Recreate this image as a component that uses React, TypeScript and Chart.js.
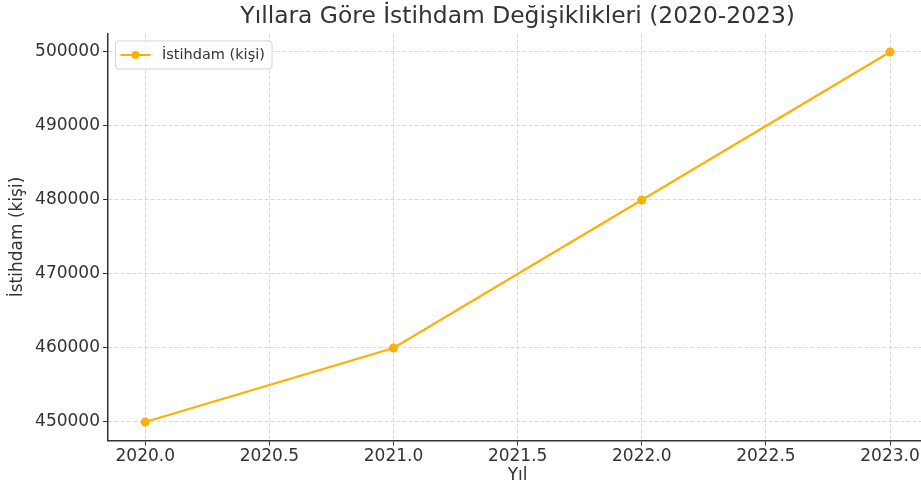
import React, { useEffect, useRef } from "react";
import { Chart, registerables } from "chart.js";

Chart.register(...registerables);

const years = [2020, 2021, 2022, 2023];
const employment = [450000, 460000, 480000, 500000];
const xTicks = [2020.0, 2020.5, 2021.0, 2021.5, 2022.0, 2022.5, 2023.0];
const yTicks = [450000, 460000, 470000, 480000, 490000, 500000];
const titleText = "Yıllara Göre İstihdam Değişiklikleri (2020-2023)";
const xLabel = "Yıl";
const yLabel = "İstihdam (kişi)";
const seriesLabel = "İstihdam (kişi)";

const FONT = "'DejaVu Sans', sans-serif";
const LINE_COLOR = "#FFB000";
const TEXT_COLOR = "#333333";
const GRID_COLOR = "#cfcfcf";

const legendPlugin = {
  id: "boxLegend",
  afterDatasetsDraw(chart: any) {
    const { ctx, chartArea } = chart;
    const x = chartArea.left + 7.5;
    const y = chartArea.top + 7.5;
    const w = 156.5;
    const h = 28;
    ctx.save();
    ctx.beginPath();
    const r = 3;
    ctx.moveTo(x + r, y);
    ctx.lineTo(x + w - r, y);
    ctx.quadraticCurveTo(x + w, y, x + w, y + r);
    ctx.lineTo(x + w, y + h - r);
    ctx.quadraticCurveTo(x + w, y + h, x + w - r, y + h);
    ctx.lineTo(x + r, y + h);
    ctx.quadraticCurveTo(x, y + h, x, y + h - r);
    ctx.lineTo(x, y + r);
    ctx.quadraticCurveTo(x, y, x + r, y);
    ctx.closePath();
    ctx.fillStyle = "rgba(255,255,255,0.85)";
    ctx.fill();
    ctx.strokeStyle = "#d6d6d6";
    ctx.lineWidth = 1;
    ctx.stroke();
    const cy = y + h / 2;
    ctx.beginPath();
    ctx.moveTo(x + 5, cy);
    ctx.lineTo(x + 35, cy);
    ctx.strokeStyle = LINE_COLOR;
    ctx.lineWidth = 2;
    ctx.stroke();
    ctx.beginPath();
    ctx.arc(x + 20, cy, 4, 0, Math.PI * 2);
    ctx.fillStyle = LINE_COLOR;
    ctx.fill();
    ctx.font = `14.5px ${FONT}`;
    ctx.fillStyle = TEXT_COLOR;
    ctx.textBaseline = "middle";
    ctx.textAlign = "left";
    ctx.fillText(seriesLabel, x + 46.5, cy);
    ctx.restore();
  },
};

export default function App() {
  const ref = useRef<HTMLCanvasElement>(null);
  useEffect(() => {
    if (!ref.current) return;
    const chart = new Chart(ref.current, {
      type: "line",
      data: {
        datasets: [
          {
            label: seriesLabel,
            data: years.map((yr, i) => ({ x: yr, y: employment[i] })),
            borderColor: LINE_COLOR,
            backgroundColor: LINE_COLOR,
            borderWidth: 2.2,
            pointRadius: 4.5,
            pointBackgroundColor: LINE_COLOR,
            pointBorderWidth: 0,
            tension: 0,
          },
        ],
      },
      options: {
        responsive: false,
        animation: false,
        devicePixelRatio: 1,
        layout: { padding: { left: 0, right: 12.75, top: 0, bottom: 0 } },
        plugins: {
          legend: { display: false },
          tooltip: { enabled: false },
          title: {
            display: true,
            text: titleText,
            fullSize: false,
            color: TEXT_COLOR,
            font: { family: FONT, size: 23.4, weight: "normal" },
            padding: { top: 3, bottom: 2.4 },
          },
        },
        scales: {
          x: {
            type: "linear",
            min: 2019.85,
            max: 2023.15,
            afterBuildTicks: (s: any) => {
              s.ticks = xTicks.map((v) => ({ value: v }));
            },
            afterFit: (s: any) => {
              s.height = 47.5;
            },
            ticks: {
              autoSkip: false,
              maxRotation: 0,
              padding: 1,
              color: TEXT_COLOR,
              font: { family: FONT, size: 17 },
              callback: (v: any) => Number(v).toFixed(1),
            },
            grid: {
              color: GRID_COLOR,
              lineWidth: 0.8,
              tickColor: "#333333",
              tickLength: 5,
              tickWidth: 1,
            },
            border: { display: true, color: "#333333", width: 1.5, dash: [4, 2] },
            title: {
              display: true,
              text: xLabel,
              color: TEXT_COLOR,
              font: { family: FONT, size: 17 },
              padding: { top: 0, bottom: 1.8 },
            },
          },
          y: {
            type: "linear",
            min: 447500,
            max: 502500,
            afterBuildTicks: (s: any) => {
              s.ticks = yTicks.map((v) => ({ value: v }));
            },
            afterFit: (s: any) => {
              s.width = 108;
            },
            ticks: {
              autoSkip: false,
              padding: 3,
              color: TEXT_COLOR,
              font: { family: FONT, size: 17 },
              callback: (v: any) => String(v),
            },
            grid: {
              color: GRID_COLOR,
              lineWidth: 0.8,
              tickColor: "#333333",
              tickLength: 5,
              tickWidth: 1,
            },
            border: { display: true, color: "#333333", width: 1.5, dash: [4, 2] },
            title: {
              display: true,
              text: yLabel,
              color: TEXT_COLOR,
              font: { family: FONT, size: 17 },
              padding: { top: 7.8, bottom: 0 },
            },
          },
        },
      },
      plugins: [legendPlugin],
    } as any);
    return () => chart.destroy();
  }, []);
  return (
    <div
      style={{
        position: "fixed",
        left: 0,
        top: 0,
        width: 921,
        height: 488,
        overflow: "hidden",
        background: "#fff",
      }}
    >
      <canvas ref={ref} width={940} height={488} style={{ display: "block" }} />
    </div>
  );
}
